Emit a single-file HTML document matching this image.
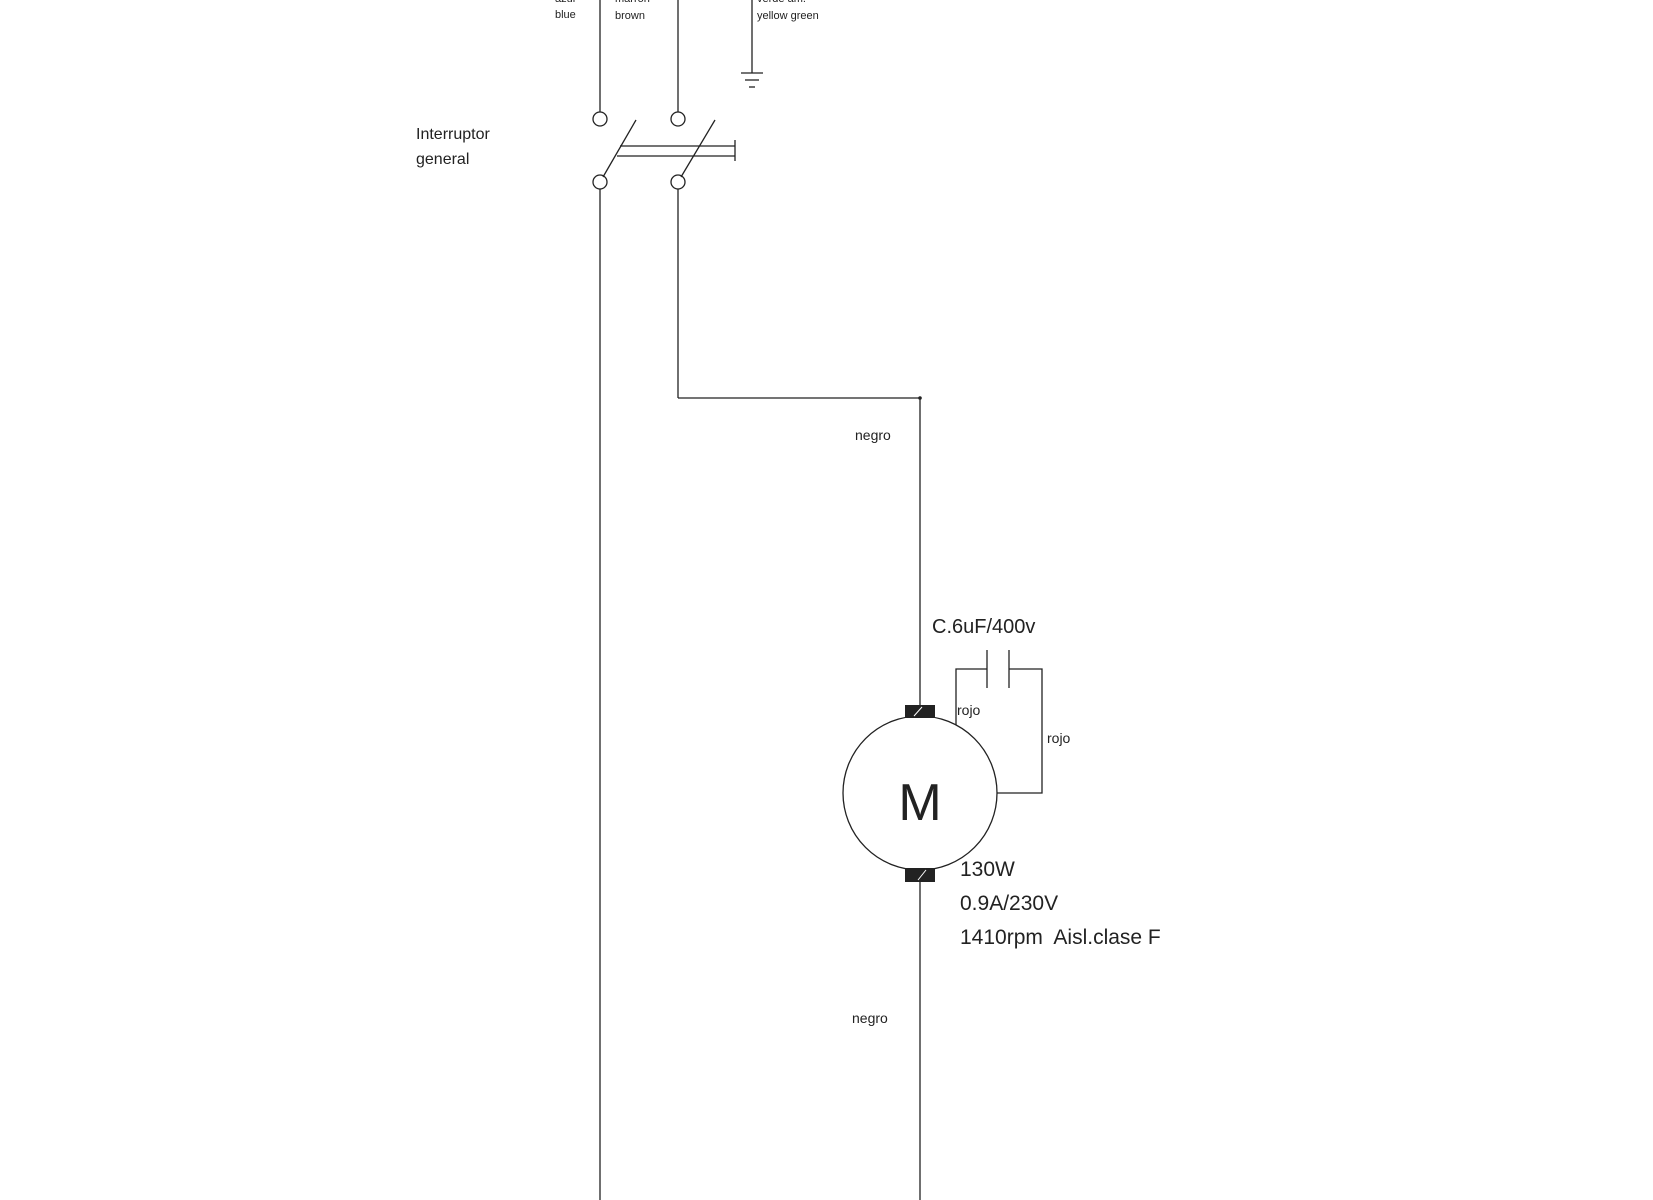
<!DOCTYPE html>
<html><head><meta charset="utf-8"><style>
html,body{margin:0;padding:0;background:#fff;width:1653px;height:1200px;overflow:hidden}
text{font-family:"Liberation Sans",sans-serif;fill:#222}
</style></head><body>
<svg width="1653" height="1200" viewBox="0 0 1653 1200" xmlns="http://www.w3.org/2000/svg">
<g stroke="#222" stroke-width="1.3" fill="none">
<line x1="600" y1="0" x2="600" y2="112"/>
<line x1="678" y1="0" x2="678" y2="112"/>
<line x1="752" y1="0" x2="752" y2="73"/>
<line x1="741" y1="73" x2="763" y2="73"/>
<line x1="745" y1="80" x2="759" y2="80"/>
<line x1="749" y1="87" x2="755" y2="87"/>
<circle cx="600" cy="119" r="7"/>
<circle cx="678" cy="119" r="7"/>
<circle cx="600" cy="182" r="7"/>
<circle cx="678" cy="182" r="7"/>
<line x1="636" y1="120" x2="603" y2="177"/>
<line x1="715" y1="120" x2="681" y2="177"/>
<line x1="620" y1="146" x2="735" y2="146"/>
<line x1="617" y1="156" x2="735" y2="156"/>
<line x1="735" y1="140" x2="735" y2="161"/>
<line x1="600" y1="189" x2="600" y2="1200"/>
<line x1="678" y1="189" x2="678" y2="398"/>
<line x1="678" y1="398" x2="920" y2="398"/>
<line x1="920" y1="398" x2="920" y2="705"/>
<line x1="920" y1="882" x2="920" y2="1200"/>
<circle cx="920" cy="793" r="77"/>
<polyline points="956,725 956,669 987,669"/>
<line x1="987" y1="650" x2="987" y2="688"/>
<line x1="1009" y1="650" x2="1009" y2="688"/>
<polyline points="1009,669 1042,669 1042,793 997,793"/>
</g>
<circle cx="920" cy="398" r="1.8" fill="#222"/>
<rect x="905" y="705" width="30" height="13" fill="#222"/>
<rect x="905" y="868" width="30" height="14" fill="#222"/>
<line x1="914" y1="716" x2="922" y2="707" stroke="#fff" stroke-width="1"/>
<line x1="918" y1="880" x2="926" y2="870" stroke="#fff" stroke-width="1"/>
<text x="555" y="2" font-size="11">azul</text>
<text x="615" y="2" font-size="11">marrón</text>
<text x="757" y="2" font-size="11">verde am.</text>
<text x="555" y="18" font-size="11">blue</text>
<text x="615" y="19" font-size="11">brown</text>
<text x="757" y="19" font-size="11">yellow  green</text>
<text x="416" y="139" font-size="16">Interruptor</text>
<text x="416" y="164" font-size="16">general</text>
<text x="855" y="440" font-size="14">negro</text>
<text x="852" y="1023" font-size="14">negro</text>
<text x="932" y="633" font-size="20">C.6uF/400v</text>
<text x="957" y="715" font-size="14">rojo</text>
<text x="1047" y="743" font-size="14">rojo</text>
<text x="920" y="820" font-size="52" text-anchor="middle">M</text>
<text x="960" y="876" font-size="21">130W</text>
<text x="960" y="910" font-size="21">0.9A/230V</text>
<text x="960" y="944" font-size="21" xml:space="preserve">1410rpm  Aisl.clase F</text>
</svg>
</body></html>
